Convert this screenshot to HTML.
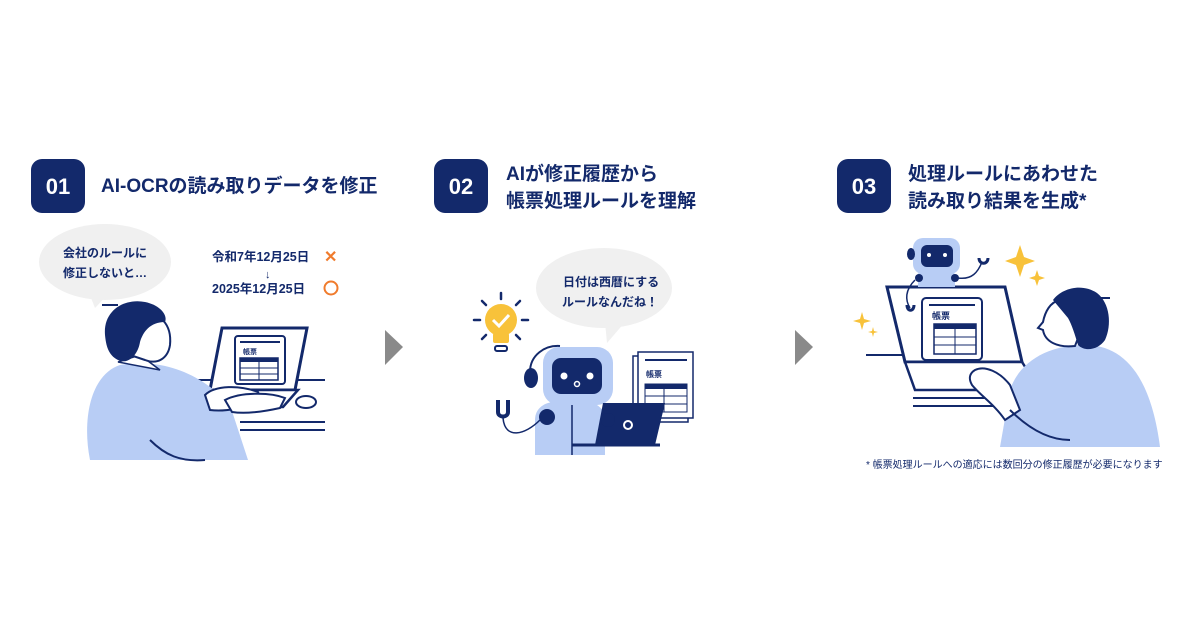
<!DOCTYPE html>
<html><head><meta charset="utf-8"><style>
html,body{margin:0;padding:0;background:#fff;width:1200px;height:630px;overflow:hidden}
svg{display:block}
text{font-family:"Liberation Sans","Noto Sans CJK JP",sans-serif;font-weight:bold;fill:#13296b}
</style></head><body>
<svg width="1200" height="630" viewBox="0 0 1200 630" xmlns="http://www.w3.org/2000/svg">
<rect x="31" y="159" width="54" height="54" rx="11" fill="#13296b"/>
<text x="58" y="194" font-size="22" text-anchor="middle" style="fill:#fff">01</text>
<text x="101" y="192" font-size="19">AI-OCRの読み取りデータを修正</text>
<rect x="434" y="159" width="54" height="54" rx="11" fill="#13296b"/>
<text x="461" y="194" font-size="22" text-anchor="middle" style="fill:#fff">02</text>
<text x="506" y="180" font-size="19">AIが修正履歴から</text>
<text x="506" y="207" font-size="19">帳票処理ルールを理解</text>
<rect x="837" y="159" width="54" height="54" rx="11" fill="#13296b"/>
<text x="864" y="194" font-size="22" text-anchor="middle" style="fill:#fff">03</text>
<text x="908" y="180" font-size="19">処理ルールにあわせた</text>
<text x="908" y="207" font-size="19">読み取り結果を生成*</text>
<polygon points="385,330 403,347 385,365" fill="#8a8a8a"/>
<polygon points="795,330 813,347 795,365" fill="#8a8a8a"/>

<!-- PANEL 1 -->
<ellipse cx="105" cy="262" rx="66" ry="38" fill="#f0f0f0"/>
<polygon points="88,290 110,292 95,308" fill="#f0f0f0"/>
<text x="63" y="257" font-size="12">会社のルールに</text>
<text x="63" y="277" font-size="12">修正しないと…</text>
<text x="212" y="261" font-size="12.5">令和7年12月25日</text>
<text x="324" y="262" font-size="16" style="fill:#f07b2c">✕</text>
<text x="265" y="278" font-size="11">↓</text>
<text x="212" y="293" font-size="12.5">2025年12月25日</text>
<circle cx="331" cy="288" r="6.5" fill="none" stroke="#f07b2c" stroke-width="2"/>
<line x1="185" y1="380" x2="325" y2="380" stroke="#13296b" stroke-width="2"/>
<line x1="240" y1="422" x2="325" y2="422" stroke="#13296b" stroke-width="2"/>
<line x1="240" y1="430" x2="325" y2="430" stroke="#13296b" stroke-width="2"/>
<polygon points="222,328 307,328 295,390 210,390" fill="#fff" stroke="#13296b" stroke-width="3"/>
<polygon points="200,390 298,390 283,407 188,407" fill="#fff" stroke="#13296b" stroke-width="2.5"/>
<rect x="235" y="336" width="50" height="48" rx="3" fill="#fff" stroke="#13296b" stroke-width="2"/>
<line x1="240" y1="342" x2="280" y2="342" stroke="#13296b" stroke-width="2"/>
<text x="243" y="354" font-size="7">帳票</text>
<rect x="240" y="358" width="38" height="22" fill="#fff" stroke="#13296b" stroke-width="1.5"/>
<rect x="240" y="358" width="38" height="4" fill="#13296b"/>
<line x1="259" y1="358" x2="259" y2="380" stroke="#13296b" stroke-width="1"/>
<line x1="240" y1="368" x2="278" y2="368" stroke="#13296b" stroke-width="1"/>
<line x1="240" y1="374" x2="278" y2="374" stroke="#13296b" stroke-width="1"/>
<ellipse cx="306" cy="402" rx="10" ry="6" fill="#fff" stroke="#13296b" stroke-width="2"/>
<path d="M90,460 C82,420 90,375 120,365 C160,358 200,372 230,405 L248,460 Z" fill="#b8cdf5"/>
<path d="M150,440 C165,455 180,462 205,460" fill="none" stroke="#13296b" stroke-width="2"/>
<path d="M205,395 C215,385 240,385 258,392 L262,402 C245,408 225,412 210,410 Z" fill="#fff" stroke="#13296b" stroke-width="2"/>
<path d="M225,400 C240,392 270,392 285,398 L280,408 C262,412 245,414 232,412 Z" fill="#fff" stroke="#13296b" stroke-width="2"/>
<path d="M118,362 L140,355 L160,370 Z" fill="#fff" stroke="#13296b" stroke-width="1.5"/>
<path d="M140,315 C160,310 172,325 170,345 C168,358 158,365 145,360 L130,355 Z" fill="#fff" stroke="#13296b" stroke-width="2"/>
<path d="M105,335 C103,310 125,298 145,302 C160,305 168,315 165,322 C150,322 143,332 140,342 C138,355 128,365 118,360 C108,355 106,345 105,335 Z" fill="#13296b"/>
<line x1="102" y1="305" x2="118" y2="305" stroke="#13296b" stroke-width="2"/>

<!-- PANEL 2 -->
<ellipse cx="604" cy="288" rx="68" ry="40" fill="#f0f0f0"/>
<polygon points="605,322 625,322 607,343" fill="#f0f0f0"/>
<text x="563" y="286" font-size="12">日付は西暦にする</text>
<text x="562" y="306" font-size="12">ルールなんだね！</text>
<circle cx="501" cy="320" r="16" fill="#f8c23a"/>
<rect x="493" y="333" width="16" height="10" rx="2" fill="#f8c23a"/>
<rect x="495" y="346" width="12" height="5" rx="2" fill="none" stroke="#13296b" stroke-width="2"/>
<path d="M493,320 L499,326 L509,315" fill="none" stroke="#fff" stroke-width="3"/>
<g stroke="#13296b" stroke-width="2.5" stroke-linecap="round">
<line x1="501" y1="293" x2="501" y2="299"/><line x1="474" y1="320" x2="480" y2="320"/><line x1="522" y1="320" x2="528" y2="320"/>
<line x1="482" y1="301" x2="486" y2="305"/><line x1="520" y1="301" x2="516" y2="305"/>
<line x1="482" y1="339" x2="486" y2="335"/><line x1="520" y1="339" x2="516" y2="335"/></g>
<rect x="633" y="356" width="55" height="66" fill="#fff" stroke="#13296b" stroke-width="1.5"/>
<rect x="638" y="352" width="55" height="66" fill="#fff" stroke="#13296b" stroke-width="1.5"/>
<line x1="645" y1="360" x2="687" y2="360" stroke="#13296b" stroke-width="2"/>
<text x="646" y="377" font-size="8">帳票</text>
<rect x="645" y="384" width="42" height="28" fill="#fff" stroke="#13296b" stroke-width="1"/>
<rect x="645" y="384" width="42" height="5" fill="#13296b"/>
<line x1="664" y1="384" x2="664" y2="412" stroke="#13296b"/><line x1="645" y1="396" x2="687" y2="396" stroke="#13296b"/><line x1="645" y1="404" x2="687" y2="404" stroke="#13296b"/>
<path d="M535,455 L535,420 C535,408 545,402 555,402 L585,402 C598,402 605,410 605,420 L605,455 Z" fill="#b8cdf5"/>
<circle cx="547" cy="417" r="8" fill="#13296b"/>
<path d="M498,400 L498,412 C498,418 508,418 508,412 L508,400" fill="none" stroke="#13296b" stroke-width="4"/>
<path d="M503,418 C505,440 525,435 540,420" fill="none" stroke="#13296b" stroke-width="1.5"/>
<rect x="543" y="347" width="70" height="58" rx="16" fill="#b8cdf5"/>
<path d="M530,372 C530,355 545,345 560,346" fill="none" stroke="#13296b" stroke-width="2"/>
<ellipse cx="531" cy="378" rx="7" ry="10" fill="#13296b"/>
<rect x="552" y="358" width="50" height="36" rx="9" fill="#13296b"/>
<circle cx="564" cy="376" r="3.5" fill="#fff"/><circle cx="590" cy="376" r="3.5" fill="#fff"/>
<circle cx="577" cy="384" r="2.5" fill="none" stroke="#fff" stroke-width="1.5"/>
<line x1="572" y1="405" x2="572" y2="455" stroke="#13296b" stroke-width="1.5"/>
<polygon points="603,403 665,403 655,445 595,445" fill="#13296b"/>
<line x1="572" y1="445" x2="660" y2="445" stroke="#13296b" stroke-width="3"/>
<circle cx="628" cy="425" r="4" fill="none" stroke="#fff" stroke-width="2"/>
<circle cx="608" cy="420" r="7" fill="#13296b"/>

<!-- PANEL 3 -->
<line x1="866" y1="355" x2="1020" y2="355" stroke="#13296b" stroke-width="2"/>
<line x1="913" y1="398" x2="1030" y2="398" stroke="#13296b" stroke-width="2"/>
<line x1="913" y1="406" x2="1030" y2="406" stroke="#13296b" stroke-width="2"/>
<path d="M1020,245 L1024,257 L1035,261 L1024,265 L1020,277 L1016,265 L1005,261 L1016,257 Z" fill="#f8c23a"/>
<path d="M1037,270 L1039,276 L1045,278 L1039,280 L1037,286 L1035,280 L1029,278 L1035,276 Z" fill="#f8c23a"/>
<path d="M862,312 L864,319 L871,321 L864,323 L862,330 L860,323 L853,321 L860,319 Z" fill="#f8c23a"/>
<path d="M873,327 L874,331 L878,332 L874,333 L873,337 L872,333 L868,332 L872,331 Z" fill="#f8c23a"/>
<polygon points="887,287 1005,287 1022,362 905,362" fill="#fff" stroke="#13296b" stroke-width="3"/>
<polygon points="905,362 1022,362 1040,390 915,390" fill="#fff" stroke="#13296b" stroke-width="2.5"/>
<rect x="922" y="298" width="60" height="62" rx="4" fill="#fff" stroke="#13296b" stroke-width="2"/>
<line x1="929" y1="305" x2="975" y2="305" stroke="#13296b" stroke-width="2"/>
<text x="932" y="319" font-size="9">帳票</text>
<rect x="934" y="324" width="42" height="30" fill="#fff" stroke="#13296b" stroke-width="1.5"/>
<rect x="934" y="324" width="42" height="5" fill="#13296b"/>
<line x1="955" y1="324" x2="955" y2="354" stroke="#13296b"/><line x1="934" y1="337" x2="976" y2="337" stroke="#13296b"/><line x1="934" y1="345" x2="976" y2="345" stroke="#13296b"/>
<path d="M918,287 L918,275 C918,270 925,268 932,268 L945,268 C952,268 955,272 955,277 L955,287 Z" fill="#b8cdf5"/>
<rect x="913" y="238" width="47" height="36" rx="10" fill="#b8cdf5"/>
<rect x="921" y="245" width="32" height="22" rx="6" fill="#13296b"/>
<circle cx="929" cy="255" r="2" fill="#fff"/><circle cx="945" cy="255" r="2" fill="#fff"/>
<ellipse cx="911" cy="254" rx="4" ry="6" fill="#13296b"/>
<circle cx="919" cy="278" r="4" fill="#13296b"/><circle cx="955" cy="278" r="4" fill="#13296b"/>
<path d="M915,280 C905,290 905,300 910,308" fill="none" stroke="#13296b" stroke-width="1.5"/>
<path d="M958,278 C972,280 978,272 982,262" fill="none" stroke="#13296b" stroke-width="1.5"/>
<path d="M979,258 C979,265 988,265 988,258" fill="none" stroke="#13296b" stroke-width="3"/>
<path d="M907,305 C907,312 914,312 914,305" fill="none" stroke="#13296b" stroke-width="3"/>
<path d="M1000,447 L1010,390 C1020,360 1050,345 1085,345 C1120,345 1150,370 1160,447 Z" fill="#b8cdf5"/>
<path d="M975,370 C985,365 1000,372 1010,385 L1020,410 L1005,420 C995,405 980,395 972,385 C968,378 970,373 975,370 Z" fill="#fff" stroke="#13296b" stroke-width="2"/>
<path d="M1010,410 C1030,430 1050,440 1070,440" fill="none" stroke="#13296b" stroke-width="2"/>
<path d="M1060,300 C1050,302 1045,312 1043,322 L1038,328 L1043,330 C1045,342 1058,348 1075,346 L1085,320 Z" fill="#fff" stroke="#13296b" stroke-width="2"/>
<path d="M1053,300 C1062,288 1082,283 1097,293 C1110,303 1112,325 1105,340 C1098,350 1085,352 1078,345 C1075,335 1072,325 1068,318 C1063,312 1058,306 1053,300 Z" fill="#13296b"/>
<line x1="1097" y1="298" x2="1110" y2="298" stroke="#13296b" stroke-width="2"/>
<text x="866" y="468" font-size="10" style="font-weight:normal">* 帳票処理ルールへの適応には数回分の修正履歴が必要になります</text>
</svg>
</body></html>
